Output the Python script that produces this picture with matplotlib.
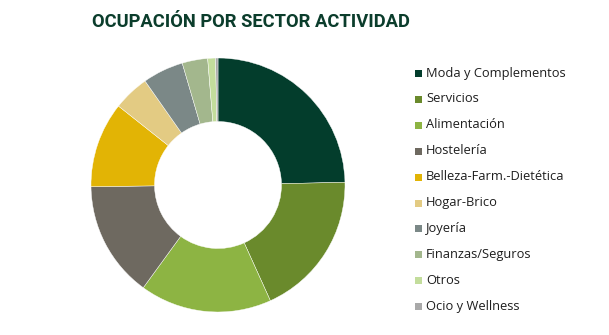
import matplotlib
matplotlib.use("Agg")
import matplotlib.pyplot as plt
from matplotlib.patches import Rectangle
from matplotlib import font_manager

categories = ["Moda y Complementos", "Servicios", "Alimentación", "Hostelería",
              "Belleza-Farm.-Dietética", "Hogar-Brico", "Joyería",
              "Finanzas/Seguros", "Otros", "Ocio y Wellness"]
values = [24.7, 18.6, 16.8, 14.8, 10.9, 4.6, 5.2, 3.25, 1.0, 0.3]
colors = ["#033d2c", "#6a8a2c", "#8db443", "#6e6960", "#e2b405",
          "#e3cb83", "#7b8887", "#a3b78d", "#c3dd9c", "#a9a9a9"]
title = "OCUPACIÓN POR SECTOR ACTIVIDAD"

names = {f.name for f in font_manager.fontManager.ttflist}
if "Liberation Sans Narrow" in names:
    tfam, tsize = "Liberation Sans Narrow", 15.5
else:
    tfam, tsize = "Roboto", 13.2

W, H = 609, 335
fig = plt.figure(figsize=(W / 100, H / 100), dpi=100)

cx, cy, r = 218, 185, 127
ax = fig.add_axes([(cx - r) / W, (H - cy - r) / H, 2 * r / W, 2 * r / H])
ax.pie(values, colors=colors, startangle=90, counterclock=False, radius=1,
       wedgeprops=dict(width=0.5, edgecolor="white", linewidth=0.3))
ax.set_xlim(-1, 1)
ax.set_ylim(-1, 1)
ax.set_aspect("equal")
ax.axis("off")

fig.text(92 / W, 1 - 22 / H, title, fontsize=tsize, fontweight="bold",
         color="#0b3d2c", family=tfam, va="center", ha="left")

y0, dy = 73, 25.9
for i, (lab, col) in enumerate(zip(categories, colors)):
    y = y0 + i * dy
    fig.patches.append(Rectangle(((415) / W, 1 - (y + 4) / H), 7 / W, 7 / H,
                                 transform=fig.transFigure, facecolor=col,
                                 edgecolor="none"))
    fig.text(426 / W, 1 - y / H, lab, fontsize=9.3, color="#1e1e1e",
             family="Open Sans", va="center", ha="left")

fig.savefig("out.png", dpi=100)
